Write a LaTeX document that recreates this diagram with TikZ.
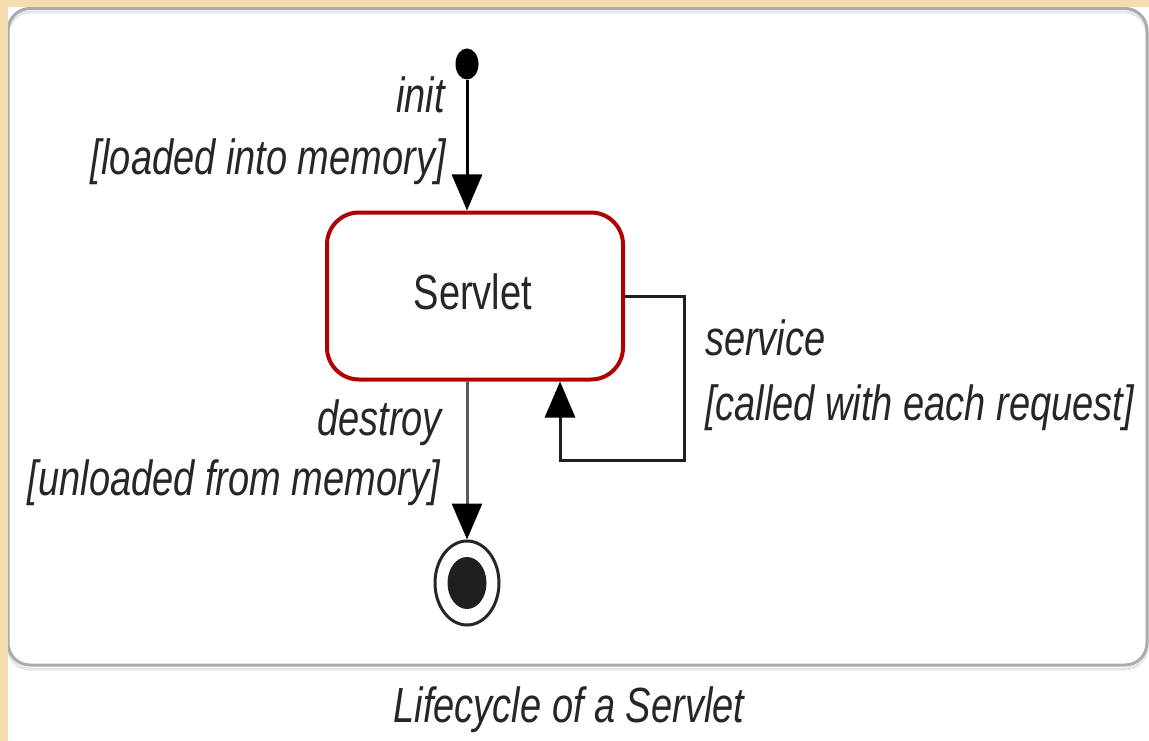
\documentclass[tikz,border=0pt]{standalone}
\usepackage{fontspec}
\setmainfont{Liberation Sans}
\usetikzlibrary{arrows.meta,shapes.geometric}
\definecolor{beige}{HTML}{F2DDB0}
\definecolor{panelgray}{HTML}{ABABAB}
\definecolor{shadowgray}{HTML}{E6E6E6}
\definecolor{statered}{HTML}{B00000}
\definecolor{txt}{HTML}{262626}
\definecolor{linegray}{HTML}{5A5A5A}
\newcommand{\vstretch}[1]{\scalebox{1}[1.3]{#1}}
\begin{document}
\begin{tikzpicture}[x=1pt,y=-1pt,
  lbl/.style={font=\fontsize{38}{40}\selectfont\itshape, text=txt, inner sep=0pt},
  statename/.style={font=\fontsize{38}{40}\selectfont, text=txt, inner sep=0pt},
  statebox/.style={draw=statered, line width=4pt, rounded corners=32pt, minimum width=296pt, minimum height=167pt, fill=white},
  initdot/.style={ellipse, fill=black, minimum width=23pt, minimum height=31pt, inner sep=0pt},
  finalouter/.style={ellipse, draw=black!85, line width=3pt, minimum width=64pt, minimum height=84pt, inner sep=0pt},
  finalinner/.style={ellipse, fill=black!88, minimum width=39pt, minimum height=52pt, inner sep=0pt},
  trans/.style={line width=3pt, -{Triangle[width=30pt,length=36pt,color=black]}},
]
\useasboundingbox (0,0) rectangle (1149,741);
% background and panel
\fill[white] (0,0) rectangle (1149,741);
\draw[shadowgray, line width=3pt, rounded corners=22pt] (8,12) rectangle (1147,669);
\draw[panelgray, line width=3pt, rounded corners=22pt] (8,8.5) rectangle (1147,665);
\fill[beige] (0,0) rectangle (1149,7);
\fill[beige] (0,0) rectangle (8,741);
% states
\node[initdot] (start) at (467,64) {};
\node[statebox] (servlet) at (475,296) {};
\node[statename, anchor=base] (servletname) at (473,309) {\vstretch{Servlet}};
\node[finalouter] (final) at (467,583) {};
\node[finalinner] (finaldot) at (final.center) {};
% transitions
\draw[trans, draw=black] (start) -- (start |- servlet.north);
\draw[trans, draw=linegray] (servlet.south -| start) -- (final.north);
\coordinate (loopTR) at (684,296);
\coordinate (loopBL) at (560,460);
\draw[trans, draw=black!88] (servlet.east |- loopTR) -- (loopTR) |- (loopBL) -- (loopBL |- servlet.south);
% labels
\node[lbl, anchor=base east] (initlbl) at (445,113) {\vstretch{init}};
\node[lbl, anchor=base east] (initguard) at (446,175) {\vstretch{[loaded into memory]}};
\node[lbl, anchor=base east] (destroylbl) at (442,435) {\vstretch{destroy}};
\node[lbl, anchor=base east] (destroyguard) at (440,495) {\vstretch{[unloaded from memory]}};
\node[lbl, anchor=base west] (servicelbl) at (705,355) {\vstretch{service}};
\node[lbl, anchor=base west] (serviceguard) at (705,420) {\vstretch{[called with each request]}};
\node[lbl, anchor=base] (caption) at (569,722) {\vstretch{Lifecycle of a Servlet}};
\end{tikzpicture}
\end{document}
